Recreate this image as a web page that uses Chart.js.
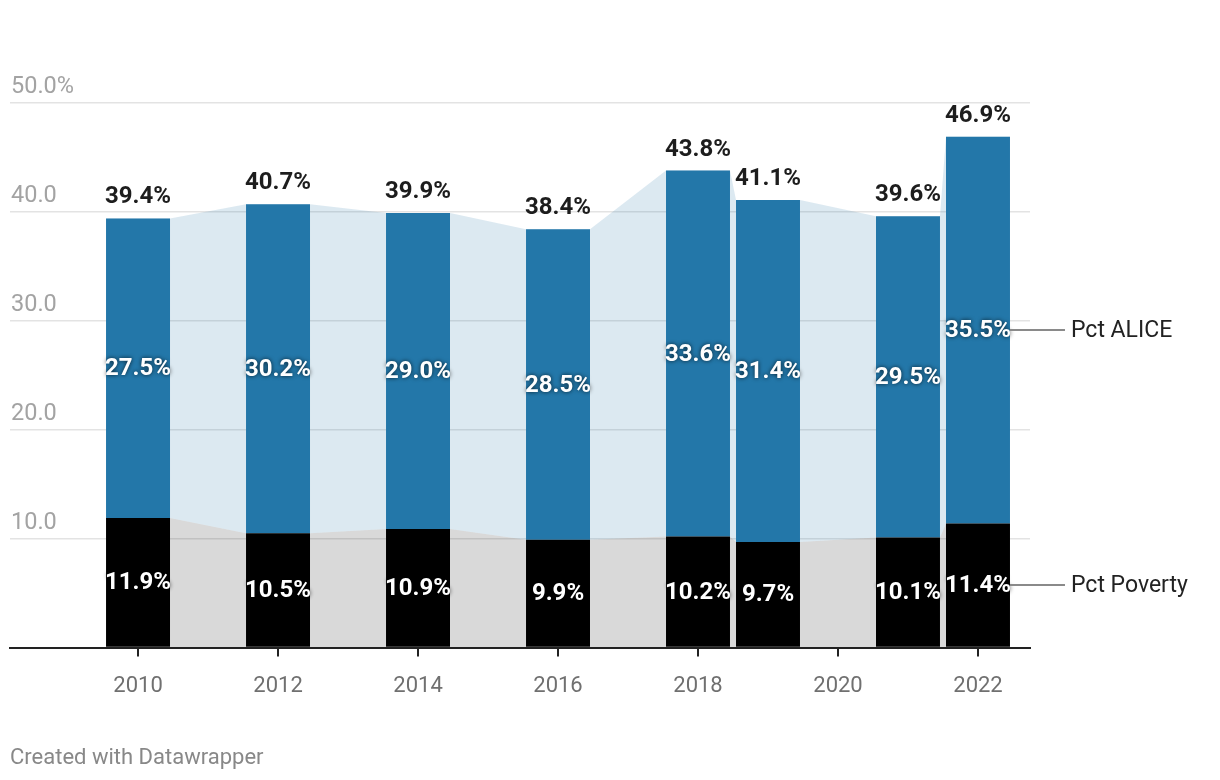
<!DOCTYPE html>
<html><head><meta charset="utf-8">
<script src="https://cdn.jsdelivr.net/npm/chart.js@4/dist/chart.umd.min.js"></script>
<style>
html,body{margin:0;padding:0;background:#fff;}
#wrap{position:relative;width:1220px;height:780px;}
#footer{position:absolute;left:10px;top:744px;font-family:Roboto,sans-serif;font-size:22px;color:#888;white-space:nowrap;}
</style></head><body>
<div id="wrap"><canvas id="c" width="1220" height="780"></canvas><div id="footer">Created with Datawrapper</div></div>
<script>
const YEARS = [2010, 2012, 2014, 2016, 2018, 2019, 2021, 2022];
const POVERTY = [11.9, 10.5, 10.9, 9.9, 10.2, 9.7, 10.1, 11.4];
const ALICE = [27.5, 30.2, 29.0, 28.5, 33.6, 31.4, 29.5, 35.5];
const TOTAL = [39.4, 40.7, 39.9, 38.4, 43.8, 41.1, 39.6, 46.9];
const X_TICKS = [2010, 2012, 2014, 2016, 2018, 2020, 2022];
const Y_TICKS = [10, 20, 30, 40, 50];
const Y_TICK_LABELS = ['10.0', '20.0', '30.0', '40.0', '50.0%'];
const SERIES_NAMES = ['Pct Poverty', 'Pct ALICE'];

const BAR_FRACTION = 0.914;
const HALF = BAR_FRACTION / 2;
const X_MIN = 2008.171, X_MAX = 2022.743;

Chart.defaults.font.family = 'Roboto, sans-serif';

function barData(vals) { return YEARS.map((x, i) => ({ x: x, y: vals[i] })); }
function areaData(vals) {
  const pts = [];
  vals.forEach((v, i) => { pts.push({ x: YEARS[i] - HALF, y: v }); pts.push({ x: YEARS[i] + HALF, y: v }); });
  return pts;
}

const labelPlugin = {
  id: 'customLabels',
  afterDatasetsDraw(chart) {
    const ctx = chart.ctx;
    const pov = chart.getDatasetMeta(0).data;
    const ali = chart.getDatasetMeta(1).data;
    const y = chart.scales.y;
    const area = chart.chartArea;
    ctx.save();
    ctx.font = '23.5px Roboto';
    ctx.fillStyle = '#a3a3a3';
    ctx.textAlign = 'left';
    ctx.textBaseline = 'alphabetic';
    Y_TICKS.forEach((v, i) => ctx.fillText(Y_TICK_LABELS[i], area.left + 1, y.getPixelForValue(v) - 10));

    ctx.font = 'bold 24px Roboto';
    ctx.fillStyle = '#1d1d1d';
    ctx.textAlign = 'center';
    ali.forEach((b, i) => ctx.fillText(TOTAL[i].toFixed(1) + '%', b.x, b.y - 15));

    ctx.save();
    ctx.fillStyle = '#fff';
    ctx.textBaseline = 'middle';
    ctx.shadowColor = 'rgba(0,0,0,0.75)';
    ctx.shadowBlur = 4;
    [[pov, POVERTY], [ali, ALICE]].forEach(([els, vals]) => {
      els.forEach((b, i) => ctx.fillText(vals[i].toFixed(1) + '%', b.x, (b.y + b.base) / 2 + 1));
    });
    ctx.restore();

    ctx.font = '23px Roboto';
    ctx.textAlign = 'left';
    ctx.textBaseline = 'middle';
    [pov, ali].forEach((els, k) => {
      const b = els[els.length - 1];
      const cy = Math.round((b.y + b.base) / 2);
      const x0 = b.x + b.width / 2;
      ctx.strokeStyle = '#8a8a8a';
      ctx.lineWidth = 2;
      ctx.beginPath();
      ctx.moveTo(x0, cy);
      ctx.lineTo(x0 + 55, cy);
      ctx.stroke();
      ctx.fillStyle = '#222';
      ctx.fillText(SERIES_NAMES[k], x0 + 61, cy + 1);
    });
    ctx.restore();
  }
};

new Chart(document.getElementById('c'), {
  type: 'bar',
  data: {
    datasets: [
      { type: 'bar', label: SERIES_NAMES[0], data: barData(POVERTY), backgroundColor: '#000000', stack: 'bars', order: 0,
        barPercentage: BAR_FRACTION, categoryPercentage: 1, borderWidth: 0 },
      { type: 'bar', label: SERIES_NAMES[1], data: barData(ALICE), backgroundColor: '#2377a9', stack: 'bars', order: 0,
        barPercentage: BAR_FRACTION, categoryPercentage: 1, borderWidth: 0 },
      { type: 'line', label: 'area poverty', data: areaData(POVERTY), stack: 'area', fill: 'origin',
        backgroundColor: 'rgba(0,0,0,0.15)', borderWidth: 0, pointRadius: 0, tension: 0, order: 1 },
      { type: 'line', label: 'area alice', data: areaData(ALICE), stack: 'area', fill: '-1',
        backgroundColor: 'rgba(35,118,168,0.16)', borderWidth: 0, pointRadius: 0, tension: 0, order: 1 }
    ]
  },
  options: {
    responsive: false,
    animation: false,
    layout: { padding: { left: 10, right: 190, top: 103, bottom: 63 } },
    plugins: { legend: { display: false }, tooltip: { enabled: false } },
    scales: {
      x: {
        type: 'linear', min: X_MIN, max: X_MAX, offset: false,
        afterBuildTicks: s => { s.ticks = X_TICKS.map(v => ({ value: v })); },
        ticks: { autoSkip: false, maxRotation: 0, callback: v => String(v), font: { size: 22 }, color: '#707070', padding: 17 },
        grid: { offset: false, drawOnChartArea: false, drawTicks: true, tickLength: 9, color: '#222', lineWidth: 2 },
        border: { display: true, color: '#222', width: 2 }
      },
      y: {
        stacked: true, min: 0, max: 50,
        ticks: { display: false, stepSize: 10 },
        grid: { color: '#e3e3e3', lineWidth: 1.5, drawTicks: false },
        border: { display: false }
      }
    }
  },
  plugins: [labelPlugin]
});
</script>
</body></html>
